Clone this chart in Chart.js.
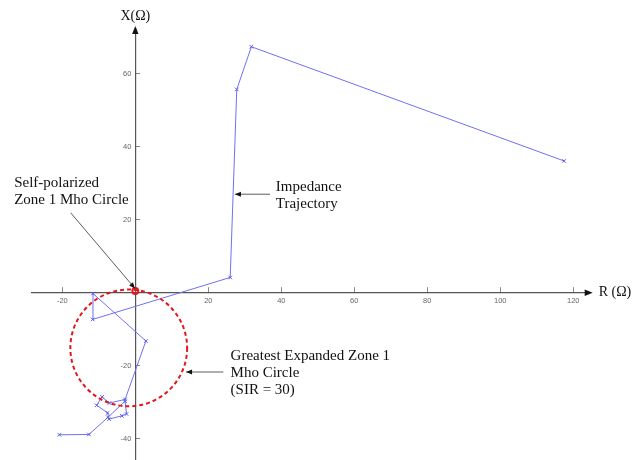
<!DOCTYPE html>
<html>
<head>
    <title>Impedance Trajectory</title>
    <script src="https://cdn.jsdelivr.net/npm/chart.js"></script>
    <style>
        body { margin: 0; background: #fff; }
    </style>
</head>
<body>
    <canvas id="trajChart" width="639" height="460"></canvas>

    <script>
        // impedance trajectory (R and X in ohms)
        var trajR = [117.5, 31.8, 27.8, 26.0, -11.7, -11.6, 2.9, -2.8, -7.1, -9.1, -10.6, -7.6, -7.2, -3.7, -2.4, -2.8, -7.5, -12.7, -20.8];
        var trajX = [36.1, 67.4, 55.7, 4.2, -7.3, -0.2, -13.2, -29.2, -30.2, -28.5, -30.8, -32.9, -34.6, -33.7, -33.2, -29.7, -34.1, -38.8, -38.9];

        // mho circles: [R, X] centre and radius
        var expandedCenter = [-1.8, -15.1];
        var expandedRadius = 16.0;
        var selfPolCenter = [0, 0.5];
        var selfPolRadius = 0.8;

        // axis ranges and tick step
        var rRange = [-28.5, 124.5];
        var xRange = [-45.8, 72.5];
        var tickStep = 20;

        // callouts, anchored in data coordinates
        var noteText = [
            ['Self-polarized', 'Zone 1 Mho Circle'],
            ['Impedance', 'Trajectory'],
            ['Greatest Expanded Zone 1', 'Mho Circle', '(SIR = 30)']
        ];
        var noteAt = [[-33.2, 30.0], [38.5, 29.0], [26.1, -17.3]];
        var arrowFrom = [[-17.7, 21.9], [36.9, 27.0], [24.1, -21.7]];
        var arrowTo = [[-0.1, 1.2], [27.3, 27.0], [13.9, -21.7]];

        var points = trajR.map(function (r, i) { return { x: r, y: trajX[i] }; });

        function arrowHead(ctx, x1, y1, x2, y2, len, half) {
            var a = Math.atan2(y2 - y1, x2 - x1);
            ctx.beginPath();
            ctx.moveTo(x2, y2);
            ctx.lineTo(x2 - len * Math.cos(a) + half * Math.sin(a), y2 - len * Math.sin(a) - half * Math.cos(a));
            ctx.lineTo(x2 - len * Math.cos(a) - half * Math.sin(a), y2 - len * Math.sin(a) + half * Math.cos(a));
            ctx.closePath();
            ctx.fill();
        }

        var decorations = {
            id: 'decorations',
            afterDatasetsDraw: function (chart) {
                var ctx = chart.ctx, xs = chart.scales.x, ys = chart.scales.y;
                var area = chart.chartArea;
                var pxPerUnit = xs.getPixelForValue(1) - xs.getPixelForValue(0);
                var x0 = xs.getPixelForValue(0), y0 = ys.getPixelForValue(0);

                ctx.save();
                // y tick labels, left of the centred axis
                ctx.font = '7.5px "Liberation Sans"';
                ctx.fillStyle = '#666';
                ctx.textAlign = 'right';
                ctx.textBaseline = 'middle';
                ys.ticks.forEach(function (t) {
                    if (t.value !== 0) ctx.fillText(t.value, x0 - 4, ys.getPixelForValue(t.value));
                });

                // greatest expanded mho circle
                ctx.strokeStyle = '#e0181c';
                ctx.lineWidth = 2;
                ctx.setLineDash([4, 3]);
                ctx.beginPath();
                ctx.arc(xs.getPixelForValue(expandedCenter[0]), ys.getPixelForValue(expandedCenter[1]),
                    expandedRadius * pxPerUnit, 0, Math.PI * 2);
                ctx.stroke();
                // self-polarized circle (tiny)
                ctx.setLineDash([]);
                ctx.beginPath();
                ctx.arc(xs.getPixelForValue(selfPolCenter[0]), ys.getPixelForValue(selfPolCenter[1]),
                    selfPolRadius * pxPerUnit, 0, Math.PI * 2);
                ctx.stroke();

                // axis arrows
                ctx.fillStyle = '#111';
                arrowHead(ctx, area.right - 10, y0, area.right + 3, y0, 8, 3.2);
                arrowHead(ctx, x0, area.top + 10, x0, area.top - 2, 8, 3.2);

                // axis titles
                ctx.font = '14px "Liberation Serif"';
                ctx.textAlign = 'center';
                ctx.fillText('X(\u03a9)', x0, 16);
                ctx.textAlign = 'left';
                ctx.fillText('R (\u03a9)', area.right + 9, y0);

                // callouts
                ctx.font = '15px "Liberation Serif"';
                for (var i = 0; i < noteText.length; i++) {
                    var tx = xs.getPixelForValue(noteAt[i][0]);
                    var ty = ys.getPixelForValue(noteAt[i][1]);
                    noteText[i].forEach(function (line, k) {
                        ctx.fillText(line, tx, ty + k * 17);
                    });
                    var ax1 = xs.getPixelForValue(arrowFrom[i][0]), ay1 = ys.getPixelForValue(arrowFrom[i][1]);
                    var ax2 = xs.getPixelForValue(arrowTo[i][0]), ay2 = ys.getPixelForValue(arrowTo[i][1]);
                    ctx.strokeStyle = '#333';
                    ctx.lineWidth = 0.8;
                    ctx.beginPath();
                    ctx.moveTo(ax1, ay1);
                    ctx.lineTo(ax2, ay2);
                    ctx.stroke();
                    arrowHead(ctx, ax1, ay1, ax2, ay2, 6, 2.5);
                }
                ctx.restore();
            }
        };

        var tickFont = { family: 'Liberation Sans', size: 7.5 };
        function hideZero(v) { return v === 0 ? '' : v; }

        new Chart(document.getElementById('trajChart'), {
            type: 'scatter',
            data: {
                datasets: [{
                    data: points,
                    showLine: true,
                    borderColor: '#7070f2',
                    borderWidth: 1,
                    pointStyle: 'crossRot',
                    pointRadius: 2.5,
                    pointBorderColor: '#5a5aee',
                    pointBorderWidth: 1
                }]
            },
            options: {
                responsive: false,
                animation: false,
                layout: { autoPadding: false, padding: { left: 31.3, right: 49.3, top: 28.1, bottom: 0 } },
                plugins: { legend: { display: false }, tooltip: { enabled: false } },
                scales: {
                    x: {
                        type: 'linear',
                        position: { y: 0 },
                        min: rRange[0],
                        max: rRange[1],
                        border: { color: '#555', width: 1.2 },
                        grid: { drawOnChartArea: false, tickLength: -6, tickColor: '#888' },
                        ticks: { stepSize: tickStep, includeBounds: false, padding: 10, color: '#666', font: tickFont, callback: hideZero }
                    },
                    y: {
                        type: 'linear',
                        position: { x: 0 },
                        min: xRange[0],
                        max: xRange[1],
                        border: { color: '#555', width: 1.2 },
                        grid: { drawOnChartArea: false, tickLength: -5, tickColor: '#888' },
                        // labels drawn by the plugin so they add no layout padding
                        ticks: { display: false, stepSize: tickStep, includeBounds: false }
                    }
                }
            },
            plugins: [decorations]
        });
    </script>
</body>
</html>
